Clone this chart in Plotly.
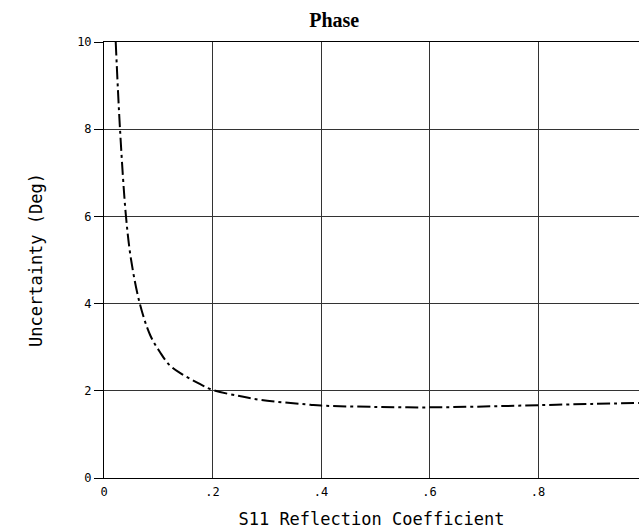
import plotly.graph_objects as go

# curve
refl_coef = [0.0216, 0.0295, 0.0405, 0.05, 0.066, 0.085, 0.103, 0.12, 0.14, 0.17,
             0.2, 0.25, 0.29, 0.38, 0.4, 0.5, 0.6, 0.7, 0.8, 0.9, 0.986]
uncert_deg = [10, 8, 6, 5.0, 4, 3.28, 2.89, 2.6, 2.41, 2.2,
              2.02, 1.88, 1.79, 1.68, 1.66, 1.63, 1.62, 1.64, 1.67, 1.70, 1.72]

x_ticks = [0, 0.2, 0.4, 0.6, 0.8]
x_ticktext = ['0', '.2', '.4', '.6', '.8']
y_ticks = [0, 2, 4, 6, 8, 10]
y_ticktext = ['0', '2', '4', '6', '8', '10']

mono = 'DejaVu Sans Mono'

fig = go.Figure()
fig.add_trace(go.Scatter(
    x=refl_coef,
    y=uncert_deg,
    mode='lines',
    line=dict(color='black', width=2, dash='13px,4px,3px,4px', shape='spline'),
    showlegend=False,
))

fig.update_xaxes(
    range=[0, 0.986],
    tickvals=x_ticks, ticktext=x_ticktext,
    showgrid=True, gridcolor='#333', gridwidth=1,
    showline=True, linecolor='black', linewidth=1, mirror=True,
    ticks='', zeroline=False, ticklabelstandoff=3,
    tickfont=dict(family=mono, size=12, color='black'),
    title=dict(text='S11 Reflection Coefficient', standoff=14,
               font=dict(family=mono, size=17, color='black')),
)
fig.update_yaxes(
    range=[0, 10],
    tickvals=y_ticks, ticktext=y_ticktext,
    showgrid=True, gridcolor='#333', gridwidth=1,
    showline=True, linecolor='black', linewidth=1,
    ticks='outside', ticklen=9, tickcolor='black', zeroline=False,
    tickfont=dict(family=mono, size=12, color='black'),
    title=dict(text='Uncertainty (Deg)', standoff=30,
               font=dict(family=mono, size=17, color='black')),
)

fig.update_layout(
    width=639, height=532,
    paper_bgcolor='white', plot_bgcolor='white',
    margin=dict(l=104, r=0, t=42, b=54),
    title=dict(text='<b>Phase</b>', x=0.523, xanchor='center',
               y=0.962, yanchor='middle', xref='container', yref='container',
               font=dict(family='Liberation Serif', size=20, color='black')),
)

# drop the default body margin so the figure fills the window
fig.write_html("out.html", config={'displayModeBar': False},
               post_script="document.body.style.margin='0';document.body.style.overflow='hidden';")
